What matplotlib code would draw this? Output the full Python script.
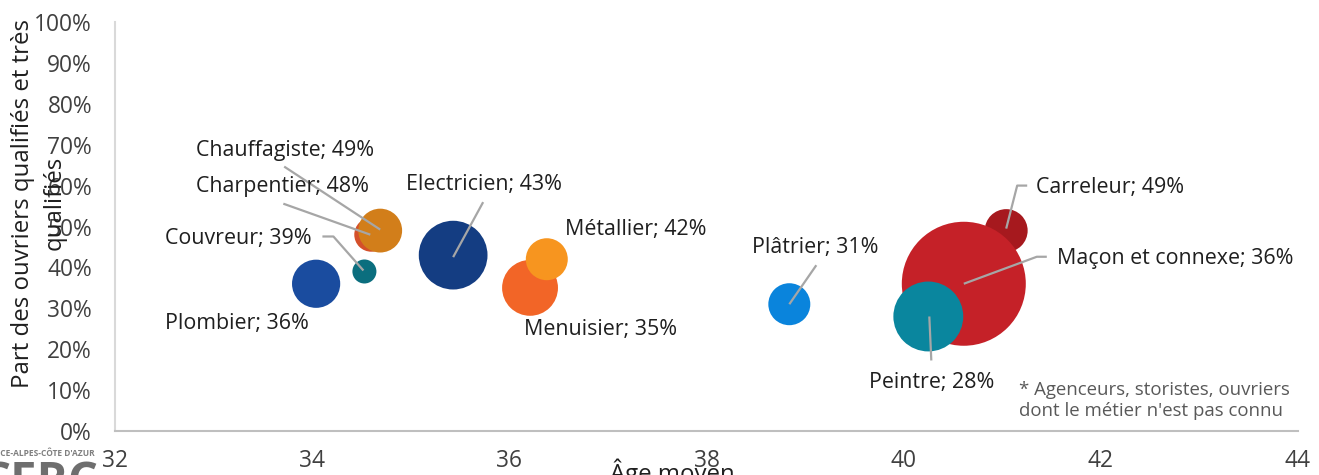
import numpy as np
import matplotlib
matplotlib.use("Agg")
import matplotlib.pyplot as plt

plt.rcParams['font.family'] = ['Open Sans', 'DejaVu Sans']

# Métiers du bâtiment : âge moyen, part d'ouvriers qualifiés, effectifs
metiers = ["Carreleur", "Maçon et connexe", "Peintre", "Plâtrier",
           "Menuisier", "Métallier", "Electricien", "Plombier",
           "Couvreur", "Charpentier", "Chauffagiste"]
age_moyen = [41.04, 40.61, 40.25, 38.84, 36.21, 36.38, 35.43, 34.04,
             34.53, 34.60, 34.69]
part_qualifies = [0.49, 0.36, 0.28, 0.31, 0.35, 0.42, 0.43, 0.36,
                  0.39, 0.48, 0.49]
effectifs = [2300, 19200, 6100, 2200, 3900, 2200, 5900, 2900,
             720, 1450, 2400]

x_ticks = [32, 34, 36, 38, 40, 42, 44]
y_ticks = [0.0, 0.1, 0.2, 0.3, 0.4, 0.5, 0.6, 0.7, 0.8, 0.9, 1.0]

colors = ["#A6191E", "#C52128", "#0A869E", "#0A84DC", "#F26527", "#F7951F",
          "#143D82", "#1A4C9F", "#0B6E7E", "#D4502A", "#D27E1A"]

# label placement (pixel offsets from bubble centre, y upwards) and leader lines
label_style = {
    "Carreleur":        dict(off=(30, 43), ha="left",
                             leader=[(21, 45), (11, 45), (0, 2)]),
    "Maçon et connexe": dict(off=(93, 25), ha="left",
                             leader=[(83, 27), (73, 27), (0, 0)]),
    "Peintre":          dict(off=(3, -66), ha="center",
                             leader=[(3, -44), (1, 0)]),
    "Plâtrier":         dict(off=(26, 57), ha="center",
                             leader=[(27, 39), (0, 0)]),
    "Menuisier":        dict(off=(71, -42), ha="center", leader=None),
    "Métallier":        dict(off=(89, 30), ha="center", leader=None),
    "Electricien":      dict(off=(31, 71), ha="center",
                             leader=[(30, 53), (0, -2)]),
    "Plombier":         dict(off=(-79, -40), ha="center", leader=None),
    "Couvreur":         dict(off=(-126, 33), ha="center",
                             leader=[(-42, 35), (-31, 35), (-1, 1)]),
    "Charpentier":      dict(off=(-89, 48), ha="center",
                             leader=[(-88, 31), (-1, 0)]),
    "Chauffagiste":     dict(off=(-95, 80), ha="center",
                             leader=[(-96, 64), (0, 1)]),
}

W, H, DPI = 1319, 475, 100
fig = plt.figure(figsize=(W / DPI, H / DPI), dpi=DPI)
ax = fig.add_axes([115 / W, 44 / H, (1298 - 115) / W, (431 - 22) / H])

ax.set_xlim(32, 44)
ax.set_ylim(0, 1)

# bubble radius in pixels proportional to sqrt(effectif)
max_r_px = 62.0
eff = np.array(effectifs, dtype=float)
r_px = max_r_px * np.sqrt(eff / eff.max())
r_pt = r_px * 72 / DPI
sizes = (2 * r_pt) ** 2

for i in range(len(metiers)):
    ax.scatter(age_moyen[i], part_qualifies[i], s=sizes[i], color=colors[i],
               edgecolors="none", zorder=2 + i)

ax.set_xticks(x_ticks)
ax.set_xticklabels([str(v) for v in x_ticks])
ax.set_yticks(y_ticks)
ax.set_yticklabels([f"{round(v * 100)}%" for v in y_ticks])
ax.tick_params(axis="both", length=0, labelsize=16.4, colors="#404040")
ax.tick_params(axis="x", pad=13)
ax.tick_params(axis="y", pad=16.5)

for side in ("top", "right"):
    ax.spines[side].set_visible(False)
ax.spines["left"].set_color("#D9D9D9")
ax.spines["bottom"].set_color("#BFBFBF")
ax.spines["left"].set_linewidth(1.5)
ax.spines["bottom"].set_linewidth(1.5)

# data labels with grey leader lines
fig.canvas.draw()
for i, name in enumerate(metiers):
    st = label_style[name]
    cx, cy = ax.transData.transform((age_moyen[i], part_qualifies[i]))
    if st["leader"]:
        pts = np.array([(cx + dx, cy + dy) for dx, dy in st["leader"]])
        ax.plot(pts[:, 0], pts[:, 1], color="#A6A6A6", lw=1.6,
                transform=None, zorder=30, solid_capstyle="butt")
    ox, oy = st["off"]
    fx, fy = fig.transFigure.inverted().transform((cx + ox, cy + oy))
    fig.text(fx, fy, f"{name}; {round(part_qualifies[i] * 100)}%",
             ha=st["ha"], va="center", fontsize=15.4, color="#1F1F1F",
             zorder=40)

# footnote
fig.text(1019 / W, 1 - 390 / H, "* Agenceurs, storistes, ouvriers",
         ha="left", va="center", fontsize=13.4, color="#595959")
fig.text(1019 / W, 1 - 411 / H, "dont le métier n'est pas connu",
         ha="left", va="center", fontsize=13.4, color="#595959")

# axis titles
fig.text(39 / W, 1 - 203 / H, "Part des ouvriers qualifiés et très\nqualifiés",
         rotation=90, ha="center", va="center", multialignment="center",
         fontsize=17.3, color="#1F1F1F", linespacing=1.4)
fig.text(672 / W, 1 - 473 / H, "Âge moyen", ha="center", va="center",
         fontsize=17.3, color="#1F1F1F")

# organisation logo, partly cropped at the lower-left corner
fig.text(95 / W, 1 - 453 / H, "PROVENCE-ALPES-CÔTE D'AZUR", ha="right",
         va="center", fontsize=6.0, color="#7F7F7F", fontweight="bold")
fig.text(98 / W, 1 - 459 / H, "CERC", ha="right", va="top",
         fontsize=34, color="#6E6E6E", fontweight="bold")

fig.savefig("out.png", dpi=DPI)
